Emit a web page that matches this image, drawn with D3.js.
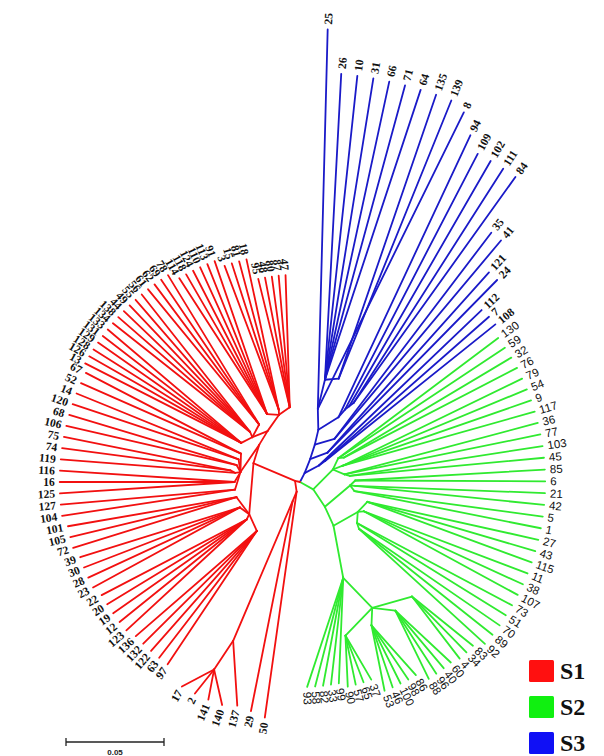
<!DOCTYPE html>
<html>
<head>
<meta charset="utf-8">
<script src="https://cdn.jsdelivr.net/npm/d3@7"></script>
<style>
  html, body { margin: 0; padding: 0; background: #fff; }
  svg { display: block; }
</style>
</head>
<body>
<svg id="chart" width="604" height="756"></svg>
<script>
// ---- Tree data (Newick, branch lengths in substitutions/site) ----
// S3 clade
const newickS3 = "(((((25:0.1929,(26:0.1556,10:0.1556,31:0.1556,66:0.1556,71:0.1556,64:0.1556,(135:0.1531,139:0.1531):0.0026):0.0153,8:0.1679):0.0102,(94:0.1587,(109:0.1469,(102:0.1444,(111:0.1418,84:0.1418):0.0026):0.0026):0.0051):0.0102):0.0077,(35:0.1321,41:0.1321):0.0077):0.0077,(121:0.1235,24:0.1235):0.0077):0.0077,(112:0.1148,(7:0.1112,108:0.1112):0.0041):0.0077)";

// S2 clade, built from its sub-groups
const s2Upper  = "((130:0.102,59:0.102,(32:0.0995,76:0.0995):0.0026):0.0051,(79:0.102,54:0.102,9:0.102,117:0.102):0.0051,(36:0.102,77:0.102,(103:0.0995,45:0.0995):0.0026):0.0051)";
const s2Right  = "((85:0.0969,6:0.0969):0.0026,(21:0.0969,42:0.0969):0.0026,(5:0.0969,1:0.0969):0.0026)";
const s2Lower  = "((27:0.0893,43:0.0893,115:0.0893):0.0026,(11:0.0893,38:0.0893,107:0.0893):0.0026,(73:0.0893,51:0.0893,(70:0.087,89:0.087,92:0.087):0.0026):0.0026)";
const s2Bottom = "((83:0.0398,34:0.0398,4:0.0398):0.0077,(60:0.0383,40:0.0383,96:0.0383,88:0.0383):0.0077,(86:0.0332,98:0.0332,100:0.0332,46:0.0332,53:0.0332):0.0077,(37:0.0255,65:0.0255,57:0.0255,90:0.0255):0.0077)";
const s2Tail   = "99:0.051,33:0.051,82:0.051,58:0.051,93:0.051";
const newickS2 = `(${s2Upper}:0.0102,(${s2Right}:0.0077,(${s2Lower}:0.0051,(${s2Bottom}:0.0204,${s2Tail}):0.0255):0.0102):0.0102)`;

// S1 clade, built from its sub-groups
const s1Base   = "(50:0.1163,(29:0.1092,(137:0.0306,(140:0.0153,141:0.0153,2:0.0153,17:0.0153):0.0173):0.0776):0.0051)";
const s1Lower  = "((97:0.0816,63:0.0816,122:0.0816,132:0.0816,136:0.0816):0.0026,(123:0.0832,12:0.0832,19:0.0832,20:0.0832,22:0.0832):0.0026,(23:0.0852,28:0.0852,30:0.0852,39:0.0852):0.0026,(72:0.0872,105:0.0872,101:0.0872):0.0026)";
const s1Left   = "((104:0.0892,127:0.0892):0.0026,(125:0.0892,16:0.0892,116:0.0892):0.0026,(119:0.0892,(74:0.0866,75:0.0866):0.0026):0.0026,(106:0.0892,68:0.0892):0.0026,(120:0.0892,14:0.0892):0.0026,(52:0.0892,67:0.0892):0.0026)";
const s1Upper  = "((13:0.0892,126:0.0892,128:0.0892,129:0.0892,131:0.0892,133:0.0892):0.0026,(134:0.0892,138:0.0892,44:0.0892,49:0.0892,55:0.0892,56:0.0892):0.0026,(61:0.0892,62:0.0892,69:0.0892,78:0.0892):0.0026)";
const s1Top    = "((114:0.0823,118:0.0823,124:0.0823,110:0.0823,113:0.0823,91:0.0823):0.0026,(3:0.0783,15:0.0783,81:0.0783,18:0.0783):0.0026,(95:0.0673,48:0.0673,80:0.0673,87:0.0673,47:0.0673):0.0026)";
const newickS1 = `(${s1Base}:0.0026,(${s1Lower}:0.0051,(${s1Left}:0.0026,(${s1Upper}:0.0026,${s1Top}:0.0051):0.0026):0.0026):0.023)`;

// Clades in clockwise order, with stem lengths from the central node
const cladeNames   = ["S3", "S2", "S1"];
const cladeNewick  = [newickS3, newickS2, newickS1];
const cladeStems   = [0.0051, 0.0077, 0.0026];
const cladeColors  = ["#1a1ac8", "#30ea30", "#f21010"];

const legendNames  = ["S1", "S2", "S3"];
const legendColors = ["#ff1010", "#10f010", "#1010f5"];
const scaleBarValue = 0.05;

// ---- Newick parser ----
function parseNewick(s) {
  let i = 0;
  function node() {
    const n = {};
    if (s[i] === "(") {
      i++;
      n.children = [node()];
      while (s[i] === ",") { i++; n.children.push(node()); }
      i++; // closing ')'
    }
    let name = "";
    while (i < s.length && !":,()".includes(s[i])) name += s[i++];
    n.name = name.trim();
    if (s[i] === ":") {
      i++;
      let num = "";
      while (i < s.length && !",()".includes(s[i])) num += s[i++];
      n.length = +num;
    } else n.length = 0;
    return n;
  }
  return node();
}

const treeData = { name: "", length: 0, children: cladeNewick.map((nw, k) => {
  const t = parseNewick(nw);
  t.length = cladeStems[k];
  (function tag(n) { n.clade = k; (n.children || []).forEach(tag); })(t);
  return t;
}) };

// ---- Layout (radial: angle per leaf, radius = distance from the centre) ----
const svg = d3.select("#chart");
const cx = 300, cy = 482;
const dist = d3.scaleLinear().domain([0, scaleBarValue]).range([0, 98]);

const root = d3.hierarchy(treeData);
const leaves = root.leaves();
leaves.forEach((l, k) => { l.index = k; });

// angular layout: leaves spread evenly between these anchor tips (degrees, clockwise from east)
const anchorTips   = ["25", "108", "130", "92", "93", "50", "17", "97", "67", "47"];
const anchorAngles = [-86.5, -38.9, -36, 41.2, 88, 98.5, 120, 126, 207, 266];
const angle = d3.scaleLinear()
  .domain(anchorTips.map(n => leaves.find(l => l.data.name === n).index))
  .range(anchorAngles);

root.eachAfter(n => {
  n.ang = n.children ? d3.mean(n.leaves(), l => angle(l.index)) : angle(n.index);
});
root.eachBefore(n => {
  n.r = n.parent ? n.parent.r + n.data.length : 0;
  const a = n.ang * Math.PI / 180;
  n.px = cx + dist(n.r) * Math.cos(a);
  n.py = cy + dist(n.r) * Math.sin(a);
});

// ---- Branches ----
svg.append("g")
  .selectAll("line")
  .data(root.links())
  .join("line")
  .attr("x1", d => d.source.px).attr("y1", d => d.source.py)
  .attr("x2", d => d.target.px).attr("y2", d => d.target.py)
  .attr("stroke", d => cladeColors[d.target.data.clade])
  .attr("stroke-width", 1.8)
  .attr("stroke-linecap", "round");

// ---- Leaf labels ----
const labelGap = 5;
svg.append("g")
  .selectAll("text")
  .data(leaves)
  .join("text")
  .attr("transform", d => {
    const a = d.ang * Math.PI / 180;
    const x = d.px + labelGap * Math.cos(a), y = d.py + labelGap * Math.sin(a);
    const right = Math.cos(a) >= 0;
    return `translate(${x},${y}) rotate(${right ? d.ang : d.ang + 180})`;
  })
  .attr("text-anchor", d => Math.cos(d.ang * Math.PI / 180) >= 0 ? "start" : "end")
  .attr("dy", "0.35em")
  .attr("font-family", d => d.data.clade === 1 ? "Liberation Sans, Arial, sans-serif" : "Liberation Serif, Times New Roman, serif")
  .attr("font-weight", d => d.data.clade === 1 ? "normal" : "bold")
  .attr("font-size", 11.5)
  .attr("fill", "#111")
  .text(d => d.data.name);

// ---- Legend ----
const legend = svg.append("g").attr("transform", "translate(529,660)");
legendNames.forEach((name, k) => {
  const g = legend.append("g").attr("transform", `translate(0,${k * 36})`);
  g.append("rect").attr("width", 25).attr("height", 22).attr("rx", 1.5).attr("fill", legendColors[k]);
  g.append("text")
    .attr("x", 31).attr("y", 19)
    .attr("font-family", "Liberation Serif, Times New Roman, serif")
    .attr("font-weight", "bold")
    .attr("font-size", 24)
    .attr("fill", "#111")
    .text(name);
});

// ---- Scale bar ----
const sbX = 66, sbY = 742;
const sb = svg.append("g").attr("stroke", "#222").attr("stroke-width", 1.3);
sb.append("line").attr("x1", sbX).attr("x2", sbX + dist(scaleBarValue)).attr("y1", sbY).attr("y2", sbY);
sb.append("line").attr("x1", sbX).attr("x2", sbX).attr("y1", sbY - 4).attr("y2", sbY + 4);
sb.append("line").attr("x1", sbX + dist(scaleBarValue)).attr("x2", sbX + dist(scaleBarValue)).attr("y1", sbY - 4).attr("y2", sbY + 4);
svg.append("text")
  .attr("x", sbX + dist(scaleBarValue) / 2).attr("y", 755)
  .attr("text-anchor", "middle")
  .attr("font-family", "Liberation Sans, Arial, sans-serif")
  .attr("font-weight", "bold")
  .attr("font-size", 8)
  .attr("fill", "#222")
  .text(scaleBarValue.toFixed(2));
</script>
</body>
</html>
